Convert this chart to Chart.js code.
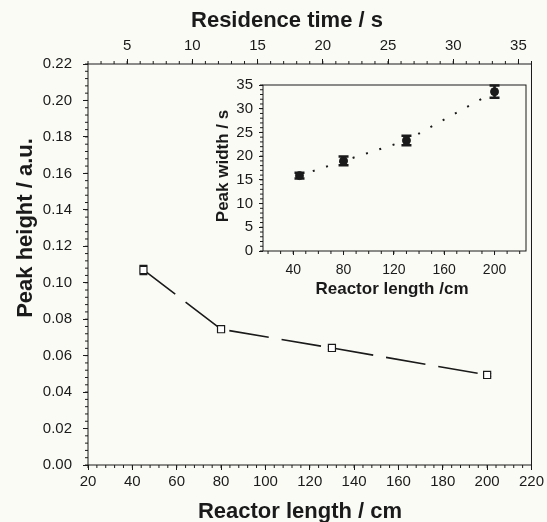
<!DOCTYPE html>
<html>
<head>
<meta charset="utf-8">
<script src="https://cdn.jsdelivr.net/npm/chart.js@4.4.1/dist/chart.umd.min.js"></script>
<style>
  html, body { margin: 0; padding: 0; background: #fbfbf6; }
  #wrap { position: relative; width: 547px; height: 522px; }
  #mainChart { position: absolute; left: 0; top: 0; width: 547px; height: 522px; }
  #insetChart { position: absolute; left: 205px; top: 70px; width: 330px; height: 235px; }
</style>
</head>
<body>
<div id="wrap">
  <canvas id="mainChart" width="547" height="522"></canvas>
  <canvas id="insetChart" width="330" height="235"></canvas>
</div>
<script>
// values
var reactorLength = [45, 80, 130, 200];          // cm
var peakHeight    = [0.107, 0.0745, 0.0642, 0.0494];
var peakHeightErr = [0.0025, 0.0012, 0.0008, 0.0008];
var peakWidth     = [15.9, 19.0, 23.3, 33.6];     // s
var peakWidthErr  = [0.6, 0.9, 1.0, 1.3];

// axis ranges
var lengthRange    = [20, 220];
var residenceRange = [2, 36];
var heightRange    = [0, 0.22];
var insetLengthRange = [16, 225];
var insetWidthRange  = [0, 35];

var FONT = '"Liberation Sans", Arial, sans-serif';
var INK = '#1a1a1a';
Chart.defaults.font.family = FONT;
Chart.defaults.color = INK;

// small ticks between the labelled ones
function minorTicks(spec) {
    return {
        id: 'minorTicks',
        afterDraw: function(chart) {
            var ctx = chart.ctx;
            ctx.save();
            ctx.strokeStyle = INK;
            ctx.lineWidth = 1;
            Object.keys(spec).forEach(function(id) {
                var s = chart.scales[id], step = spec[id].step, len = spec[id].len;
                var n0 = Math.ceil(s.min / step - 1e-9), n1 = Math.floor(s.max / step + 1e-9);
                ctx.beginPath();
                for (var n = n0; n <= n1; n++) {
                    var p = s.getPixelForValue(n * step);
                    if (s.position === 'left') { ctx.moveTo(s.right, p); ctx.lineTo(s.right - len, p); }
                    else if (s.position === 'bottom') { ctx.moveTo(p, s.top); ctx.lineTo(p, s.top + len); }
                    else if (s.position === 'top') { ctx.moveTo(p, s.bottom); ctx.lineTo(p, s.bottom - len); }
                }
                ctx.stroke();
            });
            ctx.restore();
        }
    };
}

// box round the plot area
var frame = {
    id: 'frame',
    afterDraw: function(chart) {
        var a = chart.chartArea, ctx = chart.ctx;
        ctx.save();
        ctx.strokeStyle = INK;
        ctx.lineWidth = 1;
        ctx.strokeRect(a.left, a.top, a.right - a.left, a.bottom - a.top);
        ctx.restore();
    }
};

// vertical error bars with caps
function errorBars(xs, ys, errs, capHalf, width) {
    return {
        id: 'errorBars',
        beforeDatasetsDraw: function(chart) {
            var ctx = chart.ctx, xs_ = chart.scales.x, ys_ = chart.scales.y;
            ctx.save();
            ctx.strokeStyle = INK;
            ctx.lineWidth = width;
            xs.forEach(function(xv, i) {
                var x = xs_.getPixelForValue(xv);
                var top = ys_.getPixelForValue(ys[i] + errs[i]);
                var bot = ys_.getPixelForValue(ys[i] - errs[i]);
                ctx.beginPath();
                ctx.moveTo(x, top); ctx.lineTo(x, bot);
                ctx.moveTo(x - capHalf, top); ctx.lineTo(x + capHalf, top);
                ctx.moveTo(x - capHalf, bot); ctx.lineTo(x + capHalf, bot);
                ctx.stroke();
            });
            ctx.restore();
        }
    };
}

// axis titles
function titles(items) {
    return {
        id: 'titles',
        afterDraw: function(chart) {
            var ctx = chart.ctx;
            items.forEach(function(t) {
                ctx.save();
                ctx.font = 'bold ' + t.size + 'px ' + FONT;
                ctx.fillStyle = INK;
                ctx.textAlign = 'center';
                ctx.textBaseline = 'middle';
                ctx.translate(t.x, t.y);
                if (t.rotate) ctx.rotate(-Math.PI / 2);
                ctx.fillText(t.text, 0, 0);
                ctx.restore();
            });
        }
    };
}

function axisTicks(size, pad) {
    return { color: INK, font: { size: size }, padding: pad, maxRotation: 0, autoSkip: false, includeBounds: false };
}
function axisGrid(len) {
    return { drawOnChartArea: false, drawTicks: true, tickLength: len, color: INK, tickWidth: 1 };
}

// main chart: peak height vs reactor length
new Chart(document.getElementById('mainChart'), {
    type: 'line',
    data: {
        datasets: [{
            data: reactorLength.map(function(x, i) { return { x: x, y: peakHeight[i] }; }),
            borderColor: INK,
            borderWidth: 1.6,
            borderDash: [40, 13],
            tension: 0,
            fill: false,
            pointStyle: 'rect',
            pointRadius: 5,
            pointBackgroundColor: '#ffffff',
            pointBorderColor: INK,
            pointBorderWidth: 1.2
        }]
    },
    options: {
        responsive: false,
        animation: false,
        layout: { padding: { left: 0, right: 15, top: 0, bottom: 0 } },
        plugins: { legend: { display: false }, tooltip: { enabled: false } },
        scales: {
            x: {
                type: 'linear', position: 'bottom',
                min: lengthRange[0], max: lengthRange[1],
                ticks: Object.assign(axisTicks(15, 3), { stepSize: 20 }),
                grid: axisGrid(5), border: { display: false },
                afterFit: function(s) { s.height = 57; }
            },
            xTop: {
                type: 'linear', position: 'top',
                min: residenceRange[0], max: residenceRange[1],
                ticks: Object.assign(axisTicks(15, 4), { stepSize: 5 }),
                grid: axisGrid(5), border: { display: false },
                afterFit: function(s) { s.height = 64; }
            },
            y: {
                type: 'linear', position: 'left',
                min: heightRange[0], max: heightRange[1],
                ticks: Object.assign(axisTicks(15, 11), {
                    stepSize: 0.02,
                    callback: function(v) { return v.toFixed(2); }
                }),
                grid: axisGrid(5), border: { display: false },
                afterFit: function(s) { s.width = 88; }
            }
        }
    },
    plugins: [
        frame,
        minorTicks({ x: { step: 4, len: 3 }, xTop: { step: 1, len: 3 }, y: { step: 0.004, len: 3 } }),
        errorBars(reactorLength, peakHeight, peakHeightErr, 4, 1.2),
        titles([
            { text: 'Residence time / s', x: 287, y: 21, size: 22 },
            { text: 'Reactor length / cm', x: 300, y: 512, size: 22 },
            { text: 'Peak height / a.u.', x: 26, y: 228, size: 22, rotate: true }
        ])
    ]
});

// inset: peak width vs reactor length
new Chart(document.getElementById('insetChart'), {
    type: 'line',
    data: {
        datasets: [{
            data: reactorLength.map(function(x, i) { return { x: x, y: peakWidth[i] }; }),
            borderColor: INK,
            borderWidth: 2,
            borderDash: [2, 12],
            tension: 0,
            fill: false,
            pointStyle: 'circle',
            pointRadius: 4,
            pointBackgroundColor: INK,
            pointBorderColor: INK,
            pointBorderWidth: 1
        }]
    },
    options: {
        responsive: false,
        animation: false,
        layout: { padding: { left: 0, right: 9, top: 11, bottom: 0 } },
        plugins: { legend: { display: false }, tooltip: { enabled: false } },
        scales: {
            x: {
                type: 'linear', position: 'bottom',
                min: insetLengthRange[0], max: insetLengthRange[1],
                ticks: Object.assign(axisTicks(14, 7), { stepSize: 40 }),
                grid: axisGrid(4), border: { display: false },
                afterFit: function(s) { s.height = 54; }
            },
            y: {
                type: 'linear', position: 'left',
                min: insetWidthRange[0], max: insetWidthRange[1],
                ticks: Object.assign(axisTicks(15, 6), { stepSize: 5 }),
                grid: axisGrid(4), border: { display: false },
                afterFit: function(s) { s.width = 58; }
            }
        }
    },
    plugins: [
        frame,
        minorTicks({ x: { step: 10, len: 3 }, y: { step: 1, len: 3 } }),
        errorBars(reactorLength, peakWidth, peakWidthErr, 5, 2.5),
        titles([
            { text: 'Reactor length /cm', x: 187, y: 219, size: 17 },
            { text: 'Peak width / s', x: 18, y: 96, size: 17, rotate: true }
        ])
    ]
});
</script>
</body>
</html>
